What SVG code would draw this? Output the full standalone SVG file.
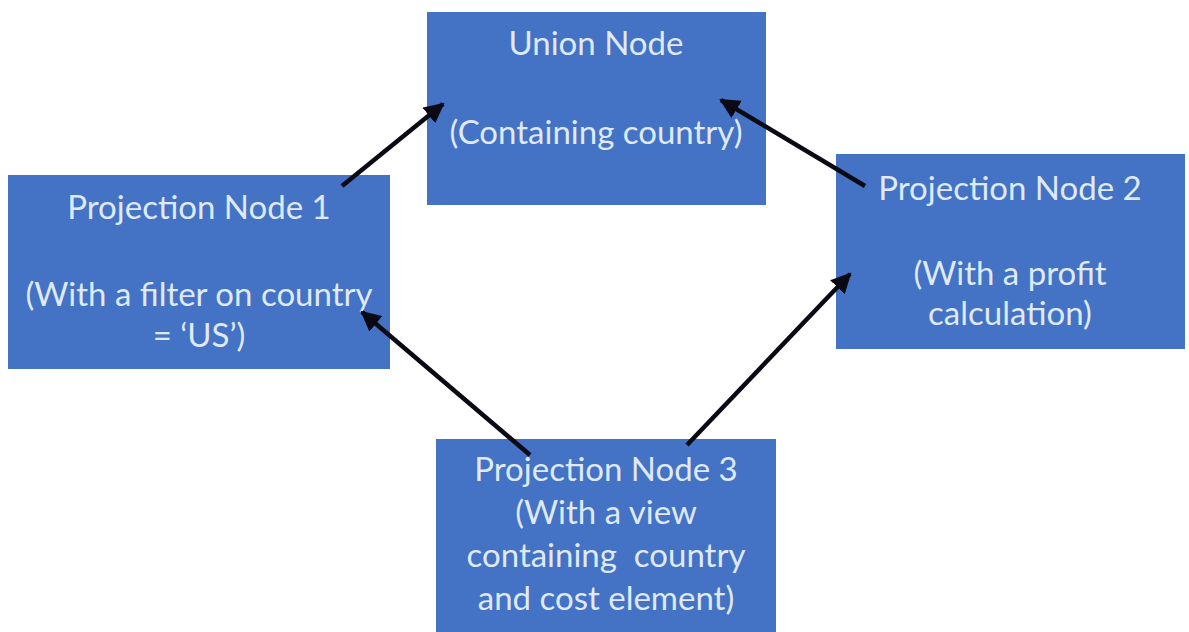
<svg xmlns="http://www.w3.org/2000/svg" width="1189" height="632" viewBox="0 0 1189 632">
<defs>
<marker id="ah" viewBox="0 0 10 10" refX="9" refY="5" markerWidth="4.5" markerHeight="4.5" orient="auto" markerUnits="strokeWidth">
<path d="M0,0 L10,5 L0,10 z" fill="#0a0a14"/>
</marker>
<style>
.box{fill:#4472C4;}
.t{font-family:Lato,"Open Sans","Liberation Sans",sans-serif;font-size:33px;fill:#dfe9f7;text-anchor:middle;white-space:pre;}
.c{stroke:#0a0a14;stroke-width:4.5;fill:none;marker-end:url(#ah);}
</style>
</defs>
<rect width="1189" height="632" fill="#ffffff"/>
<g id="union">
<rect class="box" x="427" y="12" width="339" height="193"/>
<text class="t" x="596" y="55">Union Node</text>
<text class="t" x="596" y="144">(Containing country)</text>
</g>
<g id="proj1">
<rect class="box" x="8" y="175" width="382" height="194"/>
<text class="t" x="199" y="219">Projection Node 1</text>
<text class="t" x="199" y="306">(With a filter on country</text>
<text class="t" x="199" y="347">= ‘US’)</text>
</g>
<g id="proj2">
<rect class="box" x="836" y="154" width="349" height="195"/>
<text class="t" x="1010" y="200">Projection Node 2</text>
<text class="t" x="1010" y="285">(With a profit</text>
<text class="t" x="1010" y="325">calculation)</text>
</g>
<g id="proj3">
<rect class="box" x="436" y="439" width="340" height="193"/>
<text class="t" x="606" y="481">Projection Node 3</text>
<text class="t" x="606" y="524">(With a view</text>
<text class="t" x="606" y="567" xml:space="preserve">containing  country</text>
<text class="t" x="606" y="610">and cost element)</text>
</g>
<g id="connectors">
<line class="c" x1="342" y1="186" x2="443" y2="104"/>
<line class="c" x1="865" y1="186" x2="721" y2="100"/>
<line class="c" x1="530" y1="455" x2="362" y2="312"/>
<line class="c" x1="687" y1="445" x2="850" y2="274"/>
</g>
</svg>
